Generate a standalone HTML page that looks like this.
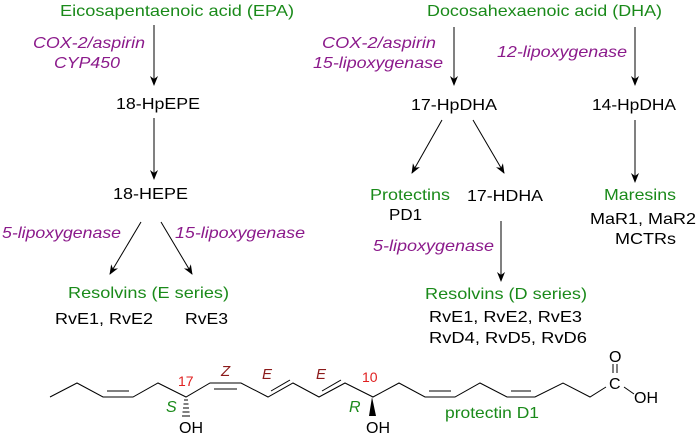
<!DOCTYPE html>
<html><head><meta charset="utf-8"><style>
html,body{margin:0;padding:0;background:#fff;}
svg{display:block;}
text{font-family:"Liberation Sans",Arial,sans-serif;font-size:16px;}
.g{fill:#1a8a1a}.p{fill:#8b1a8b;font-style:italic}.k{fill:#000}
</style></head><body>
<svg width="697" height="435" viewBox="0 0 697 435" xmlns="http://www.w3.org/2000/svg">
<defs><marker id="a" markerWidth="10" markerHeight="12" refX="9" refY="4" orient="auto" markerUnits="userSpaceOnUse"><path d="M0,0 L10,4 L0,8 L3,4 z" fill="#000"/></marker></defs>
<g stroke="#000" stroke-width="1" fill="none" marker-end="url(#a)">
<line x1="154" y1="25" x2="154" y2="85"/>
<line x1="154" y1="118" x2="154" y2="179"/>
<line x1="141" y1="222" x2="110" y2="274"/>
<line x1="161" y1="222" x2="192" y2="274"/>
<line x1="454" y1="27" x2="454" y2="85"/>
<line x1="635" y1="27" x2="635" y2="85"/>
<line x1="442" y1="120" x2="412" y2="173"/>
<line x1="473" y1="120" x2="504" y2="173"/>
<line x1="501" y1="221" x2="501" y2="281"/>
<line x1="635" y1="120" x2="635" y2="182"/>
</g>
<g lengthAdjust="spacingAndGlyphs">
<text x="60" y="16" class="g" textLength="234" lengthAdjust="spacingAndGlyphs">Eicosapentaenoic acid (EPA)</text>
<text x="427" y="16" class="g" textLength="235" lengthAdjust="spacingAndGlyphs">Docosahexaenoic acid (DHA)</text>
<text x="33" y="48" class="p" textLength="112" lengthAdjust="spacingAndGlyphs">COX-2/aspirin</text>
<text x="54" y="68" class="p" textLength="66" lengthAdjust="spacingAndGlyphs">CYP450</text>
<text x="116" y="109" class="k" textLength="84" lengthAdjust="spacingAndGlyphs">18-HpEPE</text>
<text x="113" y="199" class="k" textLength="75" lengthAdjust="spacingAndGlyphs">18-HEPE</text>
<text x="2" y="238" class="p" textLength="119" lengthAdjust="spacingAndGlyphs">5-lipoxygenase</text>
<text x="175" y="238" class="p" textLength="130" lengthAdjust="spacingAndGlyphs">15-lipoxygenase</text>
<text x="68" y="298" class="g" textLength="161" lengthAdjust="spacingAndGlyphs">Resolvins (E series)</text>
<text x="55" y="324" class="k" textLength="98" lengthAdjust="spacingAndGlyphs">RvE1, RvE2</text>
<text x="185" y="324" class="k" textLength="43" lengthAdjust="spacingAndGlyphs">RvE3</text>
<text x="322" y="48" class="p" textLength="114" lengthAdjust="spacingAndGlyphs">COX-2/aspirin</text>
<text x="313" y="68" class="p" textLength="130" lengthAdjust="spacingAndGlyphs">15-lipoxygenase</text>
<text x="497" y="57" class="p" textLength="130" lengthAdjust="spacingAndGlyphs">12-lipoxygenase</text>
<text x="411" y="110" class="k" textLength="86" lengthAdjust="spacingAndGlyphs">17-HpDHA</text>
<text x="592" y="110" class="k" textLength="84" lengthAdjust="spacingAndGlyphs">14-HpDHA</text>
<text x="370" y="200" class="g" textLength="80" lengthAdjust="spacingAndGlyphs">Protectins</text>
<text x="389" y="220" class="k" textLength="33" lengthAdjust="spacingAndGlyphs">PD1</text>
<text x="467" y="201" class="k" textLength="76" lengthAdjust="spacingAndGlyphs">17-HDHA</text>
<text x="373" y="251" class="p" textLength="121" lengthAdjust="spacingAndGlyphs">5-lipoxygenase</text>
<text x="604" y="200" class="g" textLength="72" lengthAdjust="spacingAndGlyphs">Maresins</text>
<text x="590" y="224" class="k" textLength="106" lengthAdjust="spacingAndGlyphs">MaR1, MaR2</text>
<text x="615" y="244" class="k" textLength="61" lengthAdjust="spacingAndGlyphs">MCTRs</text>
<text x="425" y="299" class="g" textLength="162" lengthAdjust="spacingAndGlyphs">Resolvins (D series)</text>
<text x="429" y="322" class="k" textLength="153" lengthAdjust="spacingAndGlyphs">RvE1, RvE2, RvE3</text>
<text x="429" y="343" class="k" textLength="158" lengthAdjust="spacingAndGlyphs">RvD4, RvD5, RvD6</text>
<text x="445" y="418" class="g" textLength="94" lengthAdjust="spacingAndGlyphs">protectin D1</text>
</g>
<g stroke="#000" stroke-width="1" fill="none">
<polyline points="50,397 77,383 103,397 133,397 158,383 186,397 210,383 241,383 268,397 293,383 319,397 345,383 373,397 399,383 425,397 455,397 480,383 507,397 535,397 563,383 590,397 606,387"/>
<line x1="107" y1="391" x2="129" y2="391"/>
<line x1="214" y1="389" x2="237" y2="389"/>
<line x1="271" y1="391" x2="290" y2="380"/>
<line x1="322" y1="391" x2="341" y2="380"/>
<line x1="429" y1="391" x2="451" y2="391"/>
<line x1="511" y1="391" x2="531" y2="391"/>
<line x1="624" y1="387" x2="634" y2="394"/>
<line x1="613" y1="364" x2="613" y2="373"/>
<line x1="617" y1="364" x2="617" y2="373"/>
</g>
<g stroke="#000" stroke-width="1">
<line x1="184" y1="400" x2="188" y2="400"/><line x1="183.5" y1="404" x2="188.5" y2="404"/><line x1="183" y1="408" x2="189" y2="408"/><line x1="182.5" y1="412" x2="189.5" y2="412"/><line x1="182" y1="416" x2="190" y2="416"/>
</g>
<path d="M372,397 L369,416 L376,416 Z" fill="#000"/>
<text x="609" y="362" class="k">O</text>
<text x="609" y="389" class="k">C</text>
<text x="634" y="403" class="k">OH</text>
<text x="179" y="433" class="k">OH</text>
<text x="366" y="433" class="k">OH</text>
<text x="178" y="386" style="fill:#e02020;font-size:14px">17</text>
<text x="362" y="382" style="fill:#e02020;font-size:14px">10</text>
<text x="221" y="376" style="fill:#8b1a1a;font-style:italic;font-size:15px">Z</text>
<text x="262" y="379" style="fill:#8b1a1a;font-style:italic;font-size:15px">E</text>
<text x="316" y="379" style="fill:#8b1a1a;font-style:italic;font-size:15px">E</text>
<text x="166" y="412" class="g" style="font-style:italic">S</text>
<text x="349" y="412" class="g" style="font-style:italic">R</text>
</svg>
</body></html>
